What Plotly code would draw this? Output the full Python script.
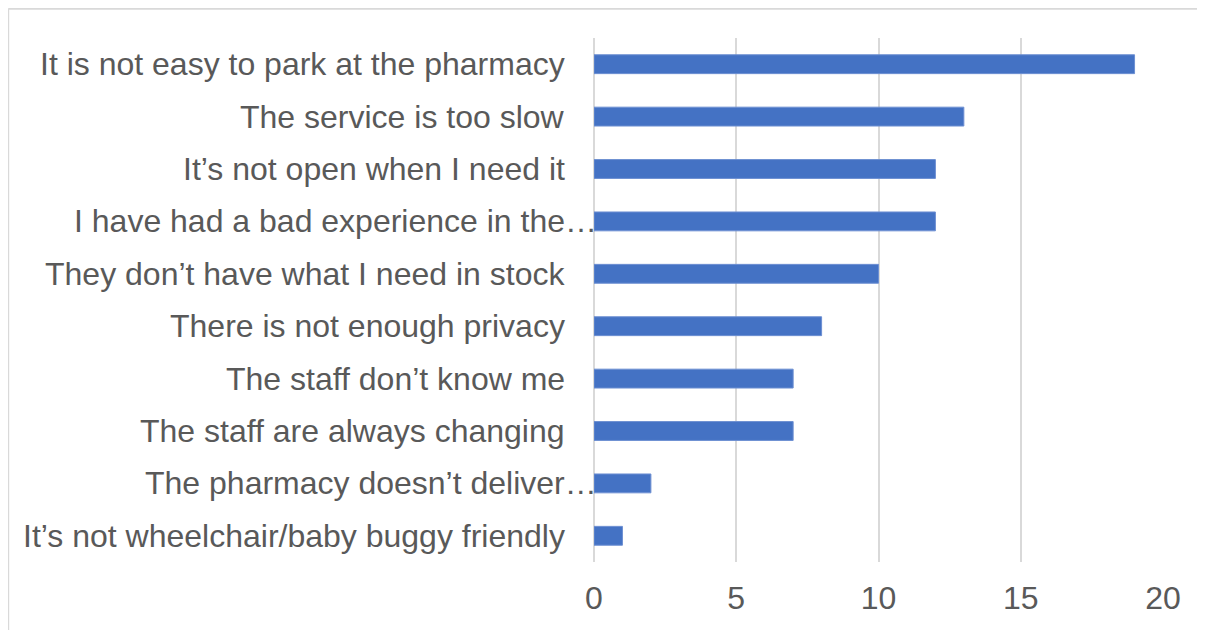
import plotly.graph_objects as go

categories = [
    "It is not easy to park at the pharmacy",
    "The service is too slow",
    "It\u2019s not open when I need it",
    "I have had a bad experience in the\u2026",
    "They don\u2019t have what I need in stock",
    "There is not enough privacy",
    "The staff don\u2019t know me",
    "The staff are always changing",
    "The pharmacy doesn\u2019t deliver\u2026",
    "It\u2019s not wheelchair/baby buggy friendly",
]
values = [19, 13, 12, 12, 10, 8, 7, 7, 2, 1]
x_ticks = [0, 5, 10, 15, 20]

# page is rendered with an 8px body margin
OFF = 8
W, H = 1205 - OFF, 630 - OFF
L, R, T, B = 594 - OFF, 1205 - 1163, 38 - OFF, 630 - 562
pw, ph = W - L - R, H - T - B

def px_x(px):  # page px -> paper
    return (px - OFF - L) / pw

def px_y(py):
    return (H - B - (py - OFF)) / ph

FONT = "Liberation Sans, Arial, sans-serif"
TXT = "#595959"

fig = go.Figure(go.Bar(
    x=values, y=categories, orientation="h",
    marker=dict(color="#4472C4", line=dict(color="#6d8fd2", width=1)),
))

annotations = []
for c in categories:
    trunc = c.endswith("\u2026")
    annotations.append(dict(
        x=0, y=c, xref="x", yref="y", text=c, showarrow=False,
        xanchor="right", yanchor="middle",
        xshift=5 if trunc else -27,
        font=dict(family=FONT, size=32, color=TXT),
    ))

fig.update_layout(
    width=W, height=H,
    margin=dict(l=L, r=R, t=T, b=B, autoexpand=False),
    paper_bgcolor="white", plot_bgcolor="white",
    bargap=0.64,
    showlegend=False,
    annotations=annotations,
    xaxis=dict(
        range=[0, 20], tickvals=x_ticks, showgrid=True, gridcolor="#D9D9D9",
        gridwidth=1.5, zeroline=True, zerolinecolor="#D9D9D9", zerolinewidth=1.5,
        showline=False, automargin=False,
        tickfont=dict(family=FONT, size=32, color=TXT),
        ticks="", ticklabelstandoff=14, fixedrange=True,
    ),
    yaxis=dict(
        categoryorder="array", categoryarray=categories[::-1],
        showticklabels=False, showgrid=False, zeroline=False, showline=False,
        ticks="", automargin=False,
    ),
    shapes=[
        dict(type="line", xref="paper", yref="paper",
             x0=px_x(8.2), x1=px_x(1230), y0=px_y(8.7), y1=px_y(8.7),
             line=dict(color="#D9D9D9", width=2)),
        dict(type="line", xref="paper", yref="paper",
             x0=px_x(8.2), x1=px_x(8.2), y0=px_y(8.7), y1=px_y(660),
             line=dict(color="#D9D9D9", width=2)),
    ],
)

fig.write_html("out.html")
